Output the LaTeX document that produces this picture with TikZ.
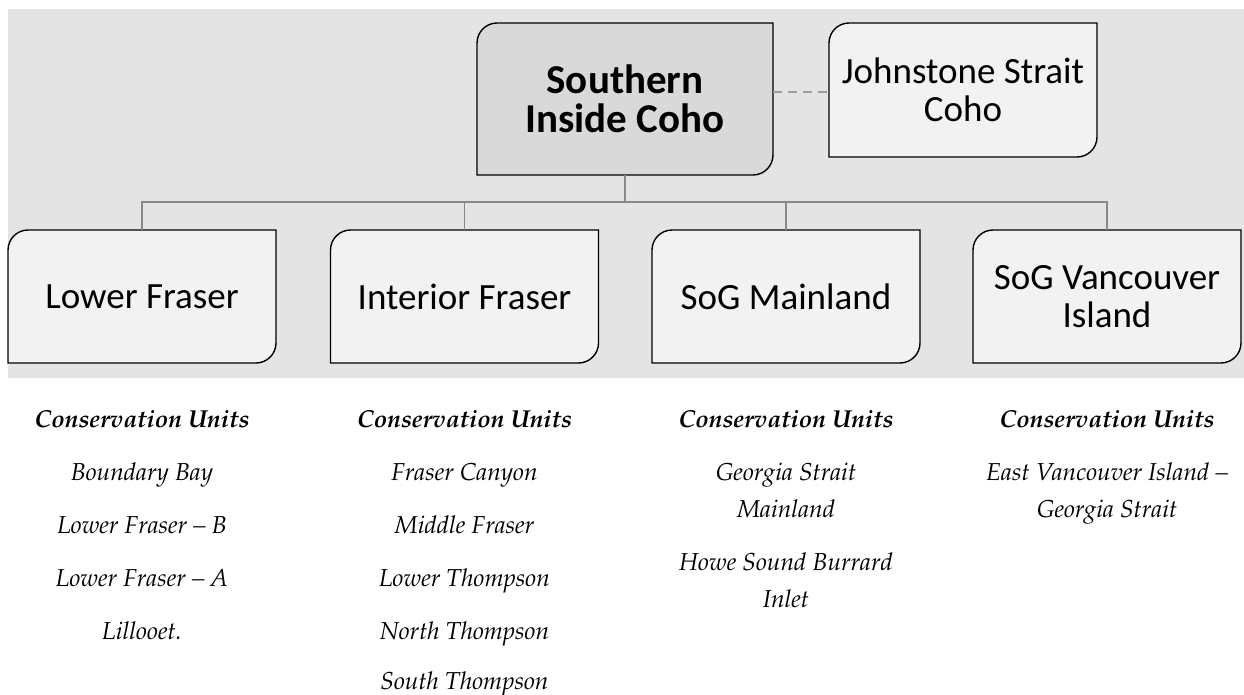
\documentclass[tikz,border=0pt]{standalone}
\usepackage[T1]{fontenc}
\usepackage{fontspec}
\setmainfont{Carlito}
\usetikzlibrary{calc,backgrounds}

\definecolor{bandgray}{HTML}{E4E4E4}
\definecolor{topfill}{HTML}{D9D9D9}
\definecolor{unitfill}{HTML}{F2F2F2}
\definecolor{linkgray}{HTML}{888888}
\definecolor{dashgray}{HTML}{9C9C9C}

% Palatino italic for the conservation-unit lists
\newcommand\cuitalic{\fontencoding{T1}\fontfamily{ppl}\fontseries{m}\fontshape{it}\fontsize{24.5}{37}\selectfont}
\newcommand\cuheading{\fontencoding{T1}\fontfamily{ppl}\fontseries{b}\fontshape{it}\fontsize{24.5}{37}\selectfont}

% box outline: rounded top-left and bottom-right corners only
\newcommand\roundbox[2]{%
  \path[outline,fill=#2]
    ($(#1.north west)+(0,20)$) .. controls ($(#1.north west)+(0,9)$) and ($(#1.north west)+(9,0)$) .. ($(#1.north west)+(20,0)$)
    -- (#1.north east)
    -- ($(#1.south east)+(0,-20)$) .. controls ($(#1.south east)+(0,-9)$) and ($(#1.south east)+(-9,0)$) .. ($(#1.south east)+(-20,0)$)
    -- (#1.south west) -- cycle;}

\begin{document}
\begin{tikzpicture}[x=1pt,y=-1pt,
  unitbox/.style={minimum width=268pt, minimum height=133pt, inner sep=0pt, outer sep=0pt,
    align=center, font={\fontsize{37}{38}\selectfont}},
  outline/.style={draw=black, line width=1.4pt},
  link/.style={draw=linkgray, line width=1.6pt},
  dashlink/.style={draw=dashgray, line width=1.6pt, dash pattern=on 9pt off 6pt},
  culist/.style={anchor=base, inner sep=0pt, align=center, font=\cuitalic},
  cuhead/.style={anchor=base, inner sep=0pt, font=\cuheading}]

\useasboundingbox (0,0) rectangle (1244,695);

% stock aggregate and neighbouring aggregate
\node[unitbox, minimum width=296pt, minimum height=152pt, font={\fontsize{41}{39}\selectfont\bfseries}]
  (sic) at (625,99) {Southern\\Inside Coho};
\node[unitbox, minimum height=134pt] (jsc) at (963,90) {Johnstone Strait\\Coho};

% management units
\node[unitbox] (lf)  at (142,296.5)   {Lower Fraser};
\node[unitbox] (inf) at (464.5,296.5) {Interior Fraser};
\node[unitbox] (sm)  at (786,296.5)   {SoG Mainland};
\node[unitbox] (svi) at (1107,296.5)  {SoG Vancouver\\Island};

\begin{scope}[on background layer]
  \fill[white] (0,0) rectangle (1244,695);
  \fill[bandgray] (8,9) rectangle (1244,378);
  \roundbox{sic}{topfill}
  \roundbox{jsc}{unitfill}
  \roundbox{lf}{unitfill}
  \roundbox{inf}{unitfill}
  \roundbox{sm}{unitfill}
  \roundbox{svi}{unitfill}
\end{scope}

% tree connectors
\coordinate (bus) at (625,202);
\draw[link] (sic.south) -- (bus);
\draw[link] (bus) -| (lf.north);
\draw[link] (bus) -| (inf.north);
\draw[link] (bus) -| (sm.north);
\draw[link] (bus) -| (svi.north);
\draw[dashlink] ([yshift=-2pt]jsc.west -| sic.east) -- ([yshift=-2pt]jsc.west);

% conservation units, column 1
\node[cuhead] (h1) at (142,427) {Conservation Units};
\node[culist] (c11) at (142,480) {Boundary Bay};
\node[culist] (c12) at (142,533) {Lower Fraser -- B};
\node[culist] (c13) at (142,586) {Lower Fraser -- A};
\node[culist] (c14) at (142,639) {Lillooet.};

% column 2
\node[cuhead] (h2) at (464.5,427) {Conservation Units};
\node[culist] (c21) at (464.5,480) {Fraser Canyon};
\node[culist] (c22) at (464.5,533) {Middle Fraser};
\node[culist] (c23) at (464.5,586) {Lower Thompson};
\node[culist] (c24) at (464.5,639) {North Thompson};
\node[culist] (c25) at (464.5,689) {South Thompson};

% column 3 (two-line entries sit on the baseline of their last line)
\node[cuhead] (h3) at (786,427) {Conservation Units};
\node[culist] (c31) at (786,517) {Georgia Strait\\Mainland};
\node[culist] (c32) at (786,607) {Howe Sound Burrard\\Inlet};

% column 4
\node[cuhead] (h4) at (1107,427) {Conservation Units};
\node[culist] (c41) at (1107,517) {East Vancouver Island --\\Georgia Strait};

\end{tikzpicture}
\end{document}
